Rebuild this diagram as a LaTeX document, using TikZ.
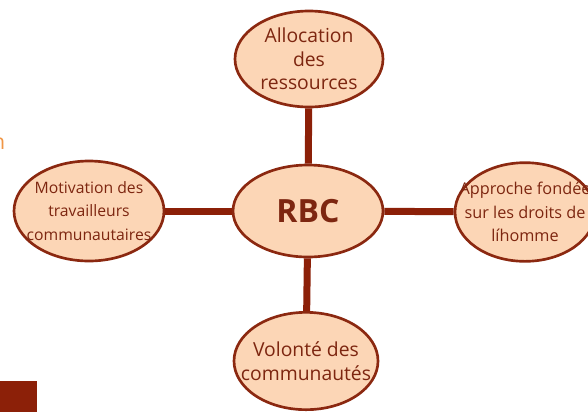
\documentclass[tikz,border=0pt]{standalone}
\usepackage{fontspec}
\setmainfont{Open Sans}
\usepackage{xcolor}
\usetikzlibrary{shapes.geometric}

\definecolor{rbcfill}{RGB}{252,214,182}
\definecolor{rbcline}{RGB}{139,40,16}
\definecolor{rbcbar}{RGB}{140,32,8}
\definecolor{rbctext}{RGB}{125,38,16}
\definecolor{rbcorange}{RGB}{240,150,70}

\begin{document}
\begin{tikzpicture}[x=0.75pt,y=0.75pt,yscale=-1,xscale=1,
  bubble/.style={ellipse, draw=rbcline, line width=2pt, fill=rbcfill, text=rbctext,
    inner sep=-14pt, align=center, font=\fontsize{14.5}{17.6}\selectfont},
  link/.style={draw=rbcbar, line width=5.25pt}]
\useasboundingbox (0,0) rectangle (588,412);

%Shape: cut text on the left
\node (cuts) [anchor=base east, text=rbcorange, font=\fontsize{16}{18}\selectfont] at (3,112) {s};
\node (cutn) [anchor=base east, text=rbcorange, font=\fontsize{16}{18}\selectfont] at (10,149) {n};
%Shape: bar bottom left
\fill [rbcbar] (0,381) rectangle (37,412);

% Centre
\node (rbc) [bubble, minimum width=112.5pt, minimum height=69pt, font=\fontsize{24}{28}\bfseries] at (308,211) {RBC};
% Text Node
\node (alloc) [bubble, minimum width=111pt, minimum height=72pt] at (309,59) {Allocation\\des\\ressources};
% Text Node
\node (motiv) [bubble, minimum width=112.5pt, minimum height=75pt, font=\fontsize{11.8}{17.6}\selectfont] at (89,211) {Motivation des\\travailleurs\\communautaires};
% Text Node
\node (droits) [bubble, minimum width=105pt, minimum height=74pt, font=\fontsize{12.2}{17.6}\selectfont] at (525,212) {Approche fondée\\sur les droits de\\líhomme};
% Text Node
\node (volonte) [bubble, minimum width=108pt, minimum height=73pt] at (306,361) {Volonté des\\communautés};

% Connection
\draw [link] (alloc) -- (rbc);
\draw [link] (motiv) -- (rbc);
\draw [link] (droits) -- (rbc);
\draw [link] (volonte) -- (rbc);

\end{tikzpicture}
\end{document}
